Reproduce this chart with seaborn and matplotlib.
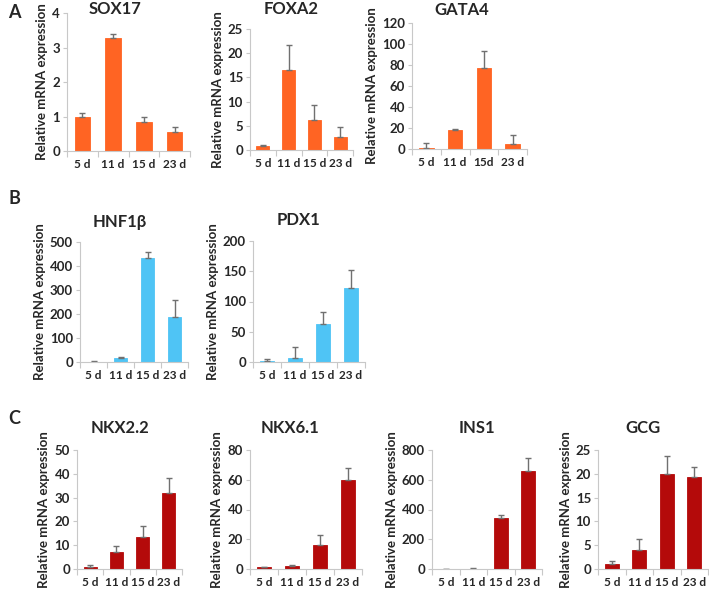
import matplotlib
matplotlib.use("Agg")
import matplotlib.pyplot as plt
import seaborn as sns
import pandas as pd
from matplotlib.ticker import FixedLocator

sns.set_theme(style="white")
plt.rcParams['font.family'] = ['Lato', 'DejaVu Sans']

days = ["5 d", "11 d", "15 d", "23 d"]
days_gata4 = ["5 d", "11 d", "15d", "23 d"]

sox17 = [1.0, 3.27, 0.83, 0.55]
sox17_err = [0.11, 0.11, 0.17, 0.16]
foxa2 = [0.9, 16.6, 6.2, 2.7]
foxa2_err = [0.2, 5.1, 3.0, 2.0]
gata4 = [1.0, 18.0, 77.0, 4.8]
gata4_err = [5.0, 0.7, 16.5, 8.6]

hnf1b = [1.5, 15.0, 433.0, 189.0]
hnf1b_err = [1.0, 7.0, 25.0, 70.0]
pdx1 = [1.0, 7.0, 62.0, 121.5]
pdx1_err = [4.5, 17.0, 21.0, 30.5]

nkx22 = [1.0, 7.3, 13.4, 32.0]
nkx22_err = [0.5, 2.2, 4.5, 6.4]
nkx61 = [1.1, 1.8, 16.2, 59.5]
nkx61_err = [0.5, 0.9, 6.8, 8.5]
ins1 = [2.0, 3.0, 346.0, 657.0]
ins1_err = [1.0, 1.0, 18.0, 87.0]
gcg = [1.04, 3.9, 20.0, 19.3]
gcg_err = [0.56, 2.3, 3.7, 2.2]

ORANGE = "#FF6423"
BLUE = "#4FC4F5"
RED = "#B40A0A"

W, H = 709, 590
fig = plt.figure(figsize=(W / 100, H / 100), dpi=100)

# (title, labels, values, errors, color, ymax, ystep, x0, x1, ytop, y0, title_x, title_y)
panels = [
    ("SOX17", days, sox17, sox17_err, ORANGE, 4, 1, 67, 190, 13, 151, 115, 9),
    ("FOXA2", days, foxa2, foxa2_err, ORANGE, 25, 5, 250, 353, 29, 150, 291, 9),
    ("GATA4", days_gata4, gata4, gata4_err, ORANGE, 120, 20, 412, 527, 23, 149, 462, 10),
    ("HNF1β", days, hnf1b, hnf1b_err, BLUE, 500, 100, 80, 188, 242, 362, 120, 222),
    ("PDX1", days, pdx1, pdx1_err, BLUE, 200, 50, 253, 365, 241, 362, 298, 220),
    ("NKX2.2", days, nkx22, nkx22_err, RED, 50, 10, 77, 182, 450, 569, 120, 428),
    ("NKX6.1", days, nkx61, nkx61_err, RED, 80, 20, 250, 362, 450, 569, 290, 428),
    ("INS1", days, ins1, ins1_err, RED, 800, 200, 432, 542, 450, 569, 477, 428),
    ("GCG", days, gcg, gcg_err, RED, 25, 5, 598, 708, 450, 569, 643, 428),
]

AXCOL = "#C8C8C8"
for title, labels, vals, errs, color, ymax, ystep, x0, x1, ytop, y0, tx, ty in panels:
    ax = fig.add_axes([x0 / W, 1 - y0 / H, (x1 - x0) / W, (y0 - ytop) / H])
    df = pd.DataFrame({"day": labels, "value": vals})
    sns.barplot(data=df, x="day", y="value", color=color, saturation=1,
                width=0.5, errorbar=None, ax=ax, edgecolor=color, linewidth=0.6)
    xs = [p.get_x() + p.get_width() / 2 for p in ax.patches]
    ax.errorbar(xs, vals, yerr=[[0] * len(errs), errs], fmt="none",
                ecolor="#707070", elinewidth=1.0, capsize=2.5, capthick=1.0)
    ax.set_xlim(-0.5, len(labels) - 0.5)
    ax.set_ylim(0, ymax)
    yt = list(range(0, ymax + 1, ystep))
    ax.set_yticks(yt)
    ax.set_yticklabels([str(v) for v in yt], fontsize=9.5, fontweight="bold")
    ax.set_xticks(range(len(labels)))
    ax.set_xticklabels(labels, fontsize=8.5, fontweight="bold")
    ax.xaxis.set_minor_locator(FixedLocator([i - 0.5 for i in range(len(labels) + 1)]))
    ax.tick_params(axis="x", which="major", length=0, pad=6)
    ax.tick_params(axis="x", which="minor", length=4, width=0.8, color=AXCOL, direction="out", bottom=True)
    ax.tick_params(axis="y", length=3, width=0.8, color=AXCOL, direction="out", left=True, pad=2)
    for s in ["top", "right"]:
        ax.spines[s].set_visible(False)
    for s in ["left", "bottom"]:
        ax.spines[s].set_color(AXCOL)
        ax.spines[s].set_linewidth(0.8)
    ax.set_xlabel("")
    ax.set_ylabel("Relative mRNA expression", fontsize=9.5, fontweight="bold", labelpad=3)
    ax.set_facecolor("white")
    fig.text(tx / W, 1 - ty / H, title, fontsize=12, fontweight="bold",
             ha="center", va="center")

for letter, (x, y) in zip(["A", "B", "C"], [(8, 13), (8, 198), (8, 418)]):
    fig.text(x / W, 1 - y / H, letter, fontsize=13, fontweight="bold", va="center", ha="left")

fig.savefig("out.png", dpi=100, facecolor="white")
